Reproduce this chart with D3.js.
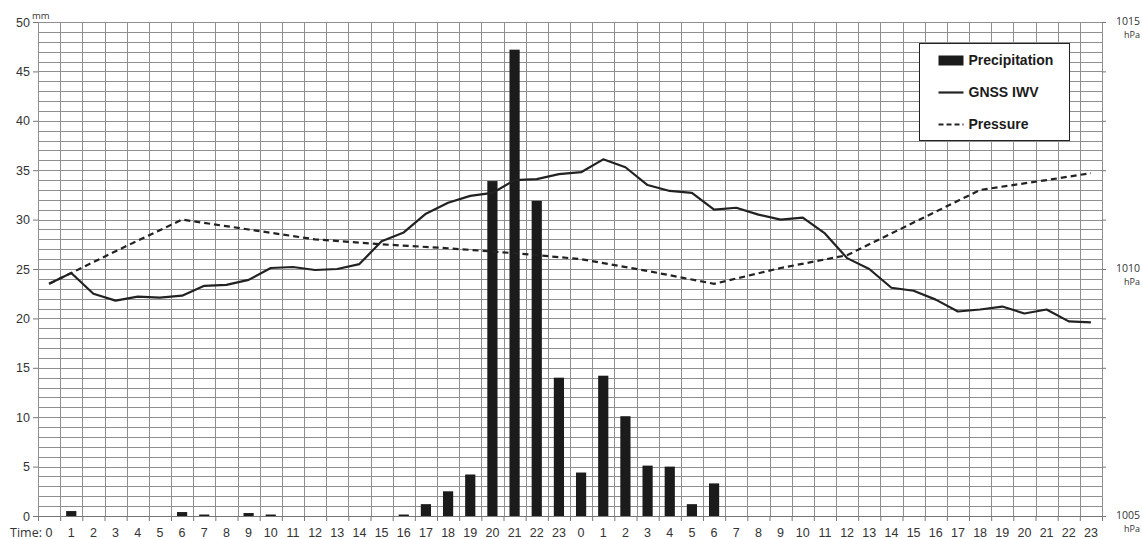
<!DOCTYPE html>
<html>
<head>
<meta charset="utf-8">
<script src="https://cdn.jsdelivr.net/npm/d3@7"></script>
<style>
  body { margin: 0; background: #fff; }
  svg { display: block; font-family: "Open Sans", "DejaVu Sans", sans-serif; }
</style>
</head>
<body>
<svg id="chart"></svg>
<script>
// hour labels, two days
const timeLabels = [0,1,2,3,4,5,6,7,8,9,10,11,12,13,14,15,16,17,18,19,20,21,22,23,
                    0,1,2,3,4,5,6,7,8,9,10,11,12,13,14,15,16,17,18,19,20,21,22,23]

// precipitation, mm per hour
const precipitation = [0,0.5,0,0,0,0,0.4,0.15,0,0.3,0.15,0,0,0,0,0,0.15,1.2,2.5,4.2,33.9,47.2,31.9,14.0,
                       4.4,14.2,10.1,5.1,5.0,1.2,3.3,0,0,0,0,0,0,0,0,0,0,0,0,0,0,0,0,0]

// GNSS integrated water vapour, mm
const iwv = [23.5,24.6,22.5,21.8,22.2,22.1,22.3,23.3,23.4,23.9,25.1,25.2,24.9,25.0,25.5,27.8,28.7,30.6,31.7,32.4,32.7,34.0,34.1,34.6,
             34.8,36.1,35.3,33.5,32.9,32.7,31.0,31.2,30.5,30.0,30.2,28.6,26.1,25.0,23.1,22.8,21.9,20.7,20.9,21.2,20.5,20.9,19.7,19.6]

// pressure, hPa, 3-hourly
const pressureHour = [0,3,6,9,12,15,18,21,24,27,30,33,36,39,42,45,47]
const pressureHpa = [1009.70,1010.36,1011.00,1010.80,1010.60,1010.50,1010.42,1010.32,1010.20,
                     1009.96,1009.70,1010.02,1010.28,1010.94,1011.60,1011.80,1011.94]

const legendItems = ['Precipitation','GNSS IWV','Pressure']

const width = 1142, height = 539
const margin = {top: 22, right: 40, bottom: 23, left: 38}
const svg = d3.select('#chart').attr('width', width).attr('height', height)

const x = d3.scaleBand()
  .domain(d3.range(timeLabels.length))
  .range([margin.left, width - margin.right])
  .padding(0)
const xl = d3.scaleLinear().domain([0, timeLabels.length]).range(x.range())
const y = d3.scaleLinear().domain([0, 50]).range([height - margin.bottom, margin.top])
const yp = d3.scaleLinear().domain([1005, 1015]).range(y.range())
const cx = i => x(i) + x.bandwidth() / 2

// grid
const grid = svg.append('g').attr('stroke', '#8f8f8f').attr('stroke-width', 1)
grid.selectAll('.h').data(y.ticks(50)).join('line')
  .attr('x1', x.range()[0]).attr('x2', x.range()[1])
  .attr('y1', d => Math.round(y(d)) + 0.5).attr('y2', d => Math.round(y(d)) + 0.5)
grid.selectAll('.v').data(d3.range(timeLabels.length + 1)).join('line')
  .attr('x1', d => Math.round(xl(d)) + 0.5).attr('x2', d => Math.round(xl(d)) + 0.5)
  .attr('y1', y(50)).attr('y2', y(0))

// left axis
const left = svg.append('g')
  .attr('transform', `translate(${margin.left},0)`)
  .call(d3.axisLeft(y).tickValues(d3.range(0, 51, 5)).tickSize(5).tickPadding(3))
left.select('.domain').remove()
left.selectAll('line').attr('stroke', '#777')
left.selectAll('text').attr('font-size', 12.5).attr('fill', '#333')
svg.append('text').attr('x', 32).attr('y', 19).attr('font-size', 9.5).attr('fill', '#333').text('mm')

// right axis ticks and labels
const right = svg.append('g')
  .attr('transform', `translate(${x.range()[1]},0)`)
  .call(d3.axisRight(yp).tickValues(d3.range(1005, 1016, 1)).tickSize(4).tickFormat(''))
right.select('.domain').remove()
right.selectAll('line').attr('stroke', '#777')
const rl = svg.append('g').attr('fill', '#333').attr('text-anchor', 'end')
;[1015, 1010, 1005].forEach(v => {
  rl.append('text').attr('x', 1140).attr('y', yp(v) + 3).attr('font-size', 10.5).text(v)
  rl.append('text').attr('x', 1140).attr('y', yp(v) + 16).attr('font-size', 9).text('hPa')
})

// bottom axis: tick marks on band boundaries, labels on band centres
const bticks = svg.append('g')
  .attr('transform', `translate(0,${y(0)})`)
  .call(d3.axisBottom(xl).tickValues(d3.range(timeLabels.length + 1)).tickSize(5).tickFormat(''))
bticks.select('.domain').attr('stroke', '#777')
bticks.selectAll('line').attr('stroke', '#777')
const blabels = svg.append('g')
  .attr('transform', `translate(0,${y(0)})`)
  .call(d3.axisBottom(x).tickSize(0).tickPadding(12).tickFormat(i => timeLabels[i]))
blabels.select('.domain').remove()
blabels.selectAll('text').attr('font-size', 12.5).attr('fill', '#333')
svg.append('text').attr('x', 42).attr('y', y(0) + 20.5).attr('text-anchor', 'end')
  .attr('font-size', 12.5).attr('fill', '#333').text('Time:')

// bars
const bw = x.bandwidth() * 0.46
svg.append('g').selectAll('rect').data(precipitation).join('rect')
  .attr('x', (d, i) => cx(i) - bw / 2)
  .attr('y', d => y(d))
  .attr('width', bw)
  .attr('height', d => y(0) - y(d))
  .attr('fill', '#1b1b1b')

// lines
svg.append('path').datum(iwv)
  .attr('fill', 'none').attr('stroke', '#222').attr('stroke-width', 2.2)
  .attr('stroke-linejoin', 'round')
  .attr('d', d3.line().x((d, i) => cx(i)).y(d => y(d)))

svg.append('path').datum(pressureHour.map((h, i) => [h, pressureHpa[i]]))
  .attr('fill', 'none').attr('stroke', '#222').attr('stroke-width', 2.2)
  .attr('stroke-dasharray', '6,4')
  .attr('d', d3.line().x(d => cx(d[0])).y(d => yp(d[1])))

// legend
const lg = svg.append('g').attr('transform', 'translate(919.5,43.5)')
lg.append('rect').attr('width', 150).attr('height', 97).attr('fill', '#fff').attr('stroke', '#222')
const items = lg.selectAll('.item').data(legendItems).join('g')
  .attr('transform', (d, i) => `translate(19,${17 + i * 32})`)
items.each(function (d, i) {
  const g = d3.select(this)
  if (i === 0) g.append('rect').attr('x', 0).attr('y', -5).attr('width', 25).attr('height', 10).attr('fill', '#1b1b1b')
  else g.append('line').attr('x1', 0).attr('x2', 25).attr('stroke', '#222').attr('stroke-width', 2.2)
    .attr('stroke-dasharray', i === 2 ? '5,3' : null)
})
items.append('text').attr('x', 30).attr('dy', '0.35em')
  .attr('font-family', '"Liberation Sans", Arial, sans-serif')
  .attr('font-weight', 'bold').attr('font-size', 14).attr('fill', '#1b1b1b')
  .text(d => d)
</script>
</body>
</html>
